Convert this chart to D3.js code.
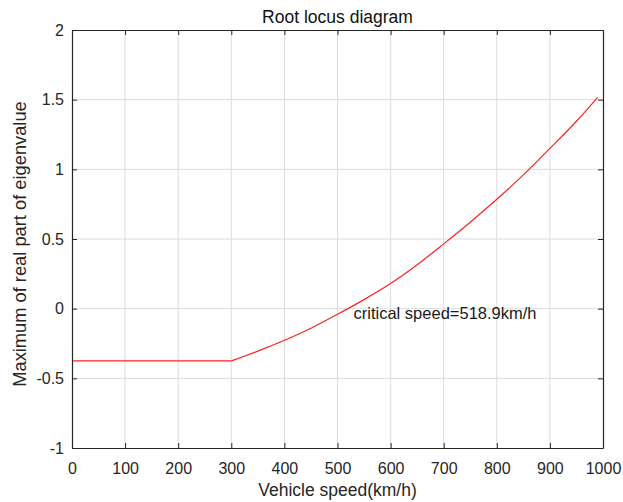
<!DOCTYPE html>
<html>
<head>
<meta charset="utf-8">
<script src="https://cdn.jsdelivr.net/npm/d3@7"></script>
<style>
  html, body { margin: 0; padding: 0; background: #fff; }
  svg { display: block; font-family: "Liberation Sans", Arial, sans-serif; }
</style>
</head>
<body>
<svg id="chart" width="623" height="502"></svg>
<script>
// Vehicle speed (km/h) and max real part of the eigenvalues
const speeds = [0, 50, 100, 150, 200, 250, 300, 350, 400, 450, 500, 550, 600, 650, 700, 750, 800, 850, 900, 950, 990];
const maxReal = [-0.375, -0.375, -0.375, -0.375, -0.375, -0.375, -0.375, -0.305, -0.227, -0.140, -0.040, 0.065, 0.180, 0.315, 0.465, 0.620, 0.785, 0.960, 1.150, 1.345, 1.517];
const xTicks = [0, 100, 200, 300, 400, 500, 600, 700, 800, 900, 1000];
const yTicks = [-1, -0.5, 0, 0.5, 1, 1.5, 2];
const criticalSpeed = 518.9;
// index where the eigenvalue starts to grow
const kneeIndex = 6;

const svg = d3.select("#chart");
const margin = { left: 72, top: 30, right: 20, bottom: 54 };
const W = 623, H = 502;
const x = d3.scaleLinear().domain([0, 1000]).range([margin.left, W - margin.right]);
const y = d3.scaleLinear().domain([-1, 2]).range([H - margin.bottom, margin.top]);

const axisColor = "#262626";
const fontFamily = "'Liberation Sans', Arial, sans-serif";

// grid
const grid = svg.append("g");
grid.selectAll(".gx").data(xTicks.slice(1, -1)).enter().append("line")
  .attr("x1", d => x(d)).attr("x2", d => x(d))
  .attr("y1", y(-1)).attr("y2", y(2))
  .attr("stroke", "#dcdcdc").attr("stroke-width", 1);
grid.selectAll(".gy").data(yTicks.slice(1, -1)).enter().append("line")
  .attr("y1", d => y(d)).attr("y2", d => y(d))
  .attr("x1", x(0)).attr("x2", x(1000))
  .attr("stroke", "#dcdcdc").attr("stroke-width", 1);

// locus curve: flat part up to the knee, then smooth growth
const pts = speeds.map((s, i) => [s, maxReal[i]]);
const flatLine = d3.line().x(d => x(d[0])).y(d => y(d[1]));
const riseLine = d3.line().x(d => x(d[0])).y(d => y(d[1])).curve(d3.curveMonotoneX);
svg.append("path").datum(pts.slice(0, kneeIndex + 1))
  .attr("d", flatLine)
  .attr("fill", "none").attr("stroke", "#ff2020").attr("stroke-width", 1.2);
svg.append("path").datum(pts.slice(kneeIndex))
  .attr("d", riseLine)
  .attr("fill", "none").attr("stroke", "#ff2020").attr("stroke-width", 1.2);

// axes with inward ticks on all sides
const tl = 5;
const axBottom = svg.append("g").attr("transform", `translate(0,${y(-1)})`)
  .call(d3.axisBottom(x).tickValues(xTicks).tickSizeInner(-tl).tickSizeOuter(0).tickPadding(15).tickFormat(d3.format("d")));
const axTop = svg.append("g").attr("transform", `translate(0,${y(2)})`)
  .call(d3.axisTop(x).tickValues(xTicks).tickSizeInner(-tl).tickSizeOuter(0).tickFormat(""));
const axLeft = svg.append("g").attr("transform", `translate(${x(0)},0)`)
  .call(d3.axisLeft(y).tickValues(yTicks).tickSizeInner(-tl).tickSizeOuter(0).tickPadding(8).tickFormat(d => String(d)));
const axRight = svg.append("g").attr("transform", `translate(${x(1000)},0)`)
  .call(d3.axisRight(y).tickValues(yTicks).tickSizeInner(-tl).tickSizeOuter(0).tickFormat(""));

[axBottom, axTop, axLeft, axRight].forEach(g => {
  g.selectAll(".domain").attr("stroke", axisColor).attr("stroke-width", 1.2);
  g.selectAll(".tick line").attr("stroke", axisColor);
  g.selectAll(".tick text").attr("fill", axisColor).style("font-size", "16px")
    .style("font-family", fontFamily);
});

// titles
svg.append("text")
  .attr("x", (x(0) + x(1000)) / 2).attr("y", 23)
  .attr("text-anchor", "middle").attr("fill", "#111")
  .style("font-size", "17.5px").text("Root locus diagram");

svg.append("text")
  .attr("x", (x(0) + x(1000)) / 2).attr("y", 496)
  .attr("text-anchor", "middle").attr("fill", axisColor)
  .style("font-size", "17.5px").text("Vehicle speed(km/h)");

svg.append("text")
  .attr("transform", `translate(26,244) rotate(-90)`)
  .attr("text-anchor", "middle").attr("fill", axisColor)
  .style("font-size", "18.3px").text("Maximum of real part of eigenvalue");

// critical speed annotation
svg.append("text")
  .attr("x", x(criticalSpeed) + 6).attr("y", y(0) + 10)
  .attr("fill", "#1a1a1a")
  .style("font-size", "16.5px")
  .text(`critical speed=${criticalSpeed}km/h`);
</script>
</body>
</html>
